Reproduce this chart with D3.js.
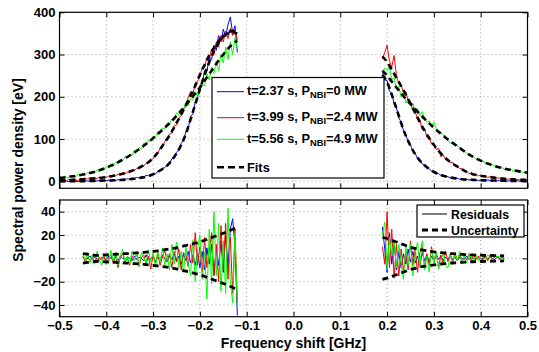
<!DOCTYPE html>
<html><head><meta charset="utf-8">
<script src="https://cdn.jsdelivr.net/npm/d3@7"></script>
<style>body{margin:0;background:#fff}text{font-family:"Liberation Sans",Arial,sans-serif;font-weight:bold}</style>
</head><body>
<script>
// ---------- DATA ----------
// spectra sampled every 0.005 GHz: left side from -0.50 GHz, right side from 0.19 GHz
const specStep = 0.005, leftStart = -0.5, rightStart = 0.19;
const blueL = [1,-1,0,1,-1,0,1,0,-1,1, 0,2,0,1,2,0,1,2,0,2, 1,3,1,3,2,4,3,5,4,6, 5,8,6,9,8,11,10,14,13,12,
  18,17,24,25,31,32,39,42,53,56, 69,73,90,96,117,125,152,160,188,196, 226,230,262,260,295,288,322,310,345,330,
  360,342,370,389,350,368,305];
const redL = [3,0,4,1,5,2,6,3,2,6, 4,7,5,8,5,9,6,10,7,11, 9,12,10,15,13,17,15,20,18,22, 21,27,25,31,30,37,36,43,44,52,
  53,63,66,79,80,95,98,112,114,132, 133,150,155,172,176,198,212,205,232,236, 250,268,270,292,290,312,300,330,318,345,
  330,355,338,362,345,358,335];
const greenL = [11,7,12,10,9,14,13,11,17,13, 19,15,21,18,24,20,27,24,31,28, 35,33,41,37,45,43,52,49,58,55,
  64,62,73,70,80,77,90,86,97,95, 106,104,118,113,126,125,138,135,147,146, 162,157,172,170,186,180,196,192,212,200,
  215,232,225,255,240,270,255,285,262,300, 280,318,288,330,300,340,312];
const blueR = [258,240,238,214,208,184,174,150,140,120, 110,92,86,71,66,54,51,41,39,32, 30,24,23,18,18,14,14,11,11,8,
  9,7,7,5,6,4,5,3,4,3, 3,2,3,2,2,3,2,1,2,1, 2,1,1,0,1,1,0,1,1,0, 1,0,1];
const redR = [290,305,322,285,270,298,250,232,228,210, 212,190,188,168,165,148,145,122,125,104, 106,88,90,75,78,58,62,52,53,44,
  45,36,37,30,30,23,24,18,20,15, 17,13,14,11,13,9,11,8,10,7, 8,5,7,4,6,3,5,2,5,2, 6,1,4];
const greenR = [255,268,262,272,240,245,218,225,200,210, 186,195,178,185,168,172,155,165,150,140, 143,130,140,125,118,115,110,104,96,90,
  93,86,85,78,76,72,66,62,61,58, 52,53,47,48,42,44,38,40,35,36, 31,33,28,30,27,28,24,26,23,24, 21,22,19];

// fits sampled every 0.01 GHz: left -0.50..-0.12, right 0.19..0.50
const fitStep = 0.01;
const fitBlueL = [0,0,0,0,0.5,0.5,1,1,1,1.5, 2,2,2.6,3.2,4,5,6,7.5,9.5,12.5, 16.5,22,29,37,50,66,86,112,146,182,
  218,252,282,308,328,343,352,356,354];
const fitRedL = [2,2.5,3,3.5,4,5,6,6.5,7,8.5, 10,12,14,16.5,19,23,27,32,38,45, 55,68,84,100,118,138,158,180,203,226,
  252,276,298,316,332,343,350,352,350];
const fitGreenL = [8,9,11,12,14,16,18,21,24,28, 32,37,42,48,54,61,68,76,84,93, 102,112,122,132,143,155,167,180,194,208,
  222,238,254,270,286,300,314,325,333];
const fitBlueR = [252,235,205,172,138,108,84,64,49,38, 29,22,17,13,10,8,6.5,5,4,3.5, 3,2.5,2.2,2,1.7,1.5,1.2,1,1,0.8, 0.6,0.5];
const fitRedR = [296,282,264,245,225,205,184,162,140,120, 102,86,72,60,50,42,35,28,22,18, 15,13,11.5,10,8.5,7,6,5,4.5,4, 3.5,3];
const fitGreenR = [262,250,236,222,208,195,183,171,159,148, 137,127,117,108,99,91,83,75,67,60, 54,49,44,40,36,33,30,28,26,24, 22,20];

// residuals sampled every 0.005 GHz: left from -0.45, right from 0.19
const resLeftStart = -0.45, resRightStart = 0.19;
const resBlueL = [1,-1,0,2,-1,1,0,-2,1,0, -1,2,0,-1,1,-2,2,0,-1,1, 0,-2,2,-1,1,0,-2,3,-1,0, 2,-3,1,-2,3,0,-3,2,-1,4,
  -3,2,-5,4,-2,6,-4,3,-6,5, -8,6,-10,9,-5,12,-14,8,-6,15, -12,20,-8,25,34,10,-49];
const resRedL = [2,-3,1,-2,0,3,-4,1,-1,2, -5,1,3,-4,2,-8,1,4,-3,0, -6,2,-2,4,-7,1,3,-5,2,-9, 3,-4,5,-6,1,7,-3,4,-8,6,
  -2,8,-10,5,3,-7,12,-4,22,-6, 10,-12,18,-8,6,22,-15,12,-20,28, -10,30,-18,18,-30,25,-38];
const resGreenL = [4,-2,5,-4,3,-5,6,-1,-6,4, 2,-5,7,-3,5,-6,3,8,-4,2, -5,6,-2,4,-7,5,1,-4,7,-3, 5,-8,6,-3,9,-6,4,-10,12,-5,
  14,-8,6,-12,10,-4,-15,16,-20,8, 20,-18,5,-35,25,-22,40,-15,30,-28, 15,-30,43,-20,-38,22,-42];
const resBlueR = [27,8,-12,22,-5,15,-10,6,-8,4, -5,8,-3,6,-4,2,-6,5,-2,3, -3,2,-2,3,-1,2,-2,1,-1,2, -1,1,-2,1,0,-1,2,-1,1,0,
  -1,1,0,-1,2,-1,1,0,-1,1, 0,1,-1];
const resRedR = [10,-5,40,-8,25,-17,12,-15,8,-12, 5,-10,15,-6,8,-12,5,12,-8,4, -6,10,-4,5,-8,3,-5,6,-3,4, -4,5,-2,3,-3,2,-1,4,-2,3,
  -1,2,-3,1,2,-2,3,-1,1,2, -1,2,0];
const resGreenR = [20,31,-10,18,2,15,-8,12,-5,-18, 10,-6,12,-15,4,14,-8,15,-10,2, -12,8,-4,6,-9,-3,5,-6,-8,3, -5,4,-2,6,-3,2,-4,3,1,-2,
  3,-2,4,1,-1,3,2,-2,3,1, 2,-1,1];

// uncertainty (± band) sampled every 0.01 GHz: left -0.45..-0.12, right 0.19..0.45
const uncLeftStart = -0.45, uncRightStart = 0.19;
const uncL = [4,3.5,3,2.5,2.8,3,3.2,3.5,3.7,4, 4.2,4.5,4.8,5.1,5.5,6,6.5,7,7.6,8.3, 9,10,11,12,13,14,15.5,17,18.5,20, 21.5,23,25,26.5];
const uncR = [18,17,15.5,14,12.5,11,9.5,8.5,7.5,6.8, 6.2,5.6,5.1,4.7,4.3,4,3.7,3.4,3.2,3, 2.8,2.7,2.6,2.5,2.4,2.3,2.2];

const xTicks = [-0.5,-0.4,-0.3,-0.2,-0.1,0,0.1,0.2,0.3,0.4,0.5];
const yTicksTop = [0,100,200,300,400];
const yTicksBot = [-40,-20,0,20,40];
const seriesNames = ["t=2.37 s, P|NBI|=0 MW","t=3.99 s, P|NBI|=2.4 MW","t=5.56 s, P|NBI|=4.9 MW"];
const colors = ["#0000ff","#ff0000","#00ff00"];

// ---------- DRAW ----------
const W=539,H=352;
const svg=d3.select("body").append("svg").attr("width",W).attr("height",H);
const L=59.5,R=527.5;
const x=d3.scaleLinear().domain([-0.5,0.5]).range([L,R]);
const yT=d3.scaleLinear().domain([-16.6,400]).range([188.3,12.3]);
const yB=d3.scaleLinear().domain([-50,50]).range([316.7,200]);

const pts=(arr,start,step)=>arr.map((v,i)=>[start+i*step,v]);

function panel(y, yticks, id){
  const top=y.range()[1], bot=y.range()[0];
  svg.append("clipPath").attr("id",id).append("rect").attr("x",L).attr("y",top).attr("width",R-L).attr("height",bot-top);
  const g=svg.append("g");
  g.selectAll(null).data(xTicks.slice(1,-1)).join("line")
    .attr("x1",d=>x(d)).attr("x2",d=>x(d)).attr("y1",top).attr("y2",bot)
    .attr("stroke","#888").attr("stroke-width",0.8).attr("stroke-dasharray","1,3");
  g.selectAll(null).data(yticks.filter(v=>y(v)>top+1&&y(v)<bot-1)).join("line")
    .attr("x1",L).attr("x2",R).attr("y1",d=>y(d)).attr("y2",d=>y(d))
    .attr("stroke","#888").attr("stroke-width",0.8).attr("stroke-dasharray","1,3");
  return {g,top,bot};
}
function frame(y, yticks, showX, top, bot){
  const g=svg.append("g");
  g.append("g").attr("transform",`translate(${L},0)`).call(d3.axisLeft(y).tickValues(yticks).tickSizeInner(-5).tickSizeOuter(0).tickPadding(4).tickFormat(d3.format("d")));
  g.append("g").attr("transform",`translate(${R},0)`).call(d3.axisRight(y).tickValues(yticks).tickSizeInner(-5).tickSizeOuter(0).tickFormat(""));
  g.append("g").attr("transform",`translate(0,${bot})`).call(d3.axisBottom(x).tickValues(xTicks).tickSizeInner(-5).tickSizeOuter(0).tickPadding(4).tickFormat(showX?d3.format(".1f"):""));
  g.append("g").attr("transform",`translate(0,${top})`).call(d3.axisTop(x).tickValues(xTicks).tickSizeInner(-5).tickSizeOuter(0).tickFormat(""));
  g.selectAll(".domain").remove();
  g.selectAll("text").attr("font-size",13).attr("fill","#000").attr("font-family","Liberation Sans, Arial, sans-serif").attr("font-weight","bold");
  g.selectAll(".tick line").attr("stroke","#000");
  g.append("rect").attr("x",L).attr("y",top).attr("width",R-L).attr("height",bot-top).attr("fill","none").attr("stroke","#000").attr("stroke-width",1.2);
}

// top panel
const P1=panel(yT,yTicksTop,"c1");
const lineT=d3.line().x(d=>x(d[0])).y(d=>yT(d[1]));
const fitLine=d3.line().x(d=>x(d[0])).y(d=>yT(d[1])).curve(d3.curveMonotoneX);
const dataL=[blueL,redL,greenL], dataR=[blueR,redR,greenR];
const fitsL=[fitBlueL,fitRedL,fitGreenL], fitsR=[fitBlueR,fitRedR,fitGreenR];
const gT=P1.g.append("g").attr("clip-path","url(#c1)");
dataL.forEach((a,i)=>{
  gT.append("path").attr("d",lineT(pts(a,leftStart,specStep))).attr("fill","none").attr("stroke",colors[i]).attr("stroke-width",1);
  gT.append("path").attr("d",lineT(pts(dataR[i],rightStart,specStep))).attr("fill","none").attr("stroke",colors[i]).attr("stroke-width",1);
});
fitsL.forEach((a,i)=>{
  gT.append("path").attr("d",fitLine(pts(a,leftStart,fitStep))).attr("fill","none").attr("stroke","#000").attr("stroke-width",2.6).attr("stroke-dasharray","6,4");
  gT.append("path").attr("d",fitLine(pts(fitsR[i],rightStart,fitStep))).attr("fill","none").attr("stroke","#000").attr("stroke-width",2.6).attr("stroke-dasharray","6,4");
});
frame(yT,yTicksTop,false,P1.top,P1.bot);

// bottom panel
const P2=panel(yB,yTicksBot,"c2");
const lineB=d3.line().x(d=>x(d[0])).y(d=>yB(d[1]));
const uncLine=d3.line().x(d=>x(d[0])).y(d=>yB(d[1])).curve(d3.curveMonotoneX);
const gB=P2.g.append("g").attr("clip-path","url(#c2)");
const resL=[resBlueL,resRedL,resGreenL], resR=[resBlueR,resRedR,resGreenR];
resL.forEach((a,i)=>{
  gB.append("path").attr("d",lineB(pts(a,resLeftStart,specStep))).attr("fill","none").attr("stroke",colors[i]).attr("stroke-width",1);
  gB.append("path").attr("d",lineB(pts(resR[i],resRightStart,specStep))).attr("fill","none").attr("stroke",colors[i]).attr("stroke-width",1);
});
[[uncL,uncLeftStart],[uncR,uncRightStart]].forEach(([a,s])=>{
  [1,-1].forEach(sg=>{
    gB.append("path").attr("d",uncLine(a.map((v,i)=>[s+i*fitStep,sg*v]))).attr("fill","none").attr("stroke","#000").attr("stroke-width",2.8).attr("stroke-dasharray","6,4");
  });
});
frame(yB,yTicksBot,true,P2.top,P2.bot);

// axis labels
svg.append("text").attr("x",(L+R)/2).attr("y",347.5).attr("text-anchor","middle").attr("font-size",14).text("Frequency shift [GHz]");
svg.append("text").attr("transform","translate(23,170) rotate(-90)").attr("text-anchor","middle").attr("font-size",14).text("Spectral power density [eV]");

// top legend
const lg=svg.append("g");
lg.append("rect").attr("x",212).attr("y",77.5).attr("width",172).attr("height",100.5).attr("fill","#fff").attr("stroke","#000").attr("stroke-width",1.2);
const rowsY=[91.7,117.7,139.3];
seriesNames.forEach((nm,i)=>{
  const yy=rowsY[i];
  lg.append("line").attr("x1",217).attr("x2",244).attr("y1",yy).attr("y2",yy).attr("stroke",colors[i]).attr("stroke-width",1);
  const parts=nm.split("|");
  const t=lg.append("text").attr("x",247).attr("y",yy+3.5).attr("font-size",12.8);
  t.append("tspan").text(parts[0]);
  t.append("tspan").attr("font-size",9.3).attr("dy",3).text(parts[1]);
  t.append("tspan").attr("dy",-3).text(parts[2]);
});
lg.append("line").attr("x1",217).attr("x2",244).attr("y1",167.3).attr("y2",167.3).attr("stroke","#000").attr("stroke-width",2.6).attr("stroke-dasharray","7,4");
lg.append("text").attr("x",247).attr("y",171.8).attr("font-size",12.8).text("Fits");

// bottom legend
const lb=svg.append("g");
lb.append("rect").attr("x",417).attr("y",205).attr("width",107).attr("height",32).attr("fill","#fff").attr("stroke","#000").attr("stroke-width",1.2);
lb.append("line").attr("x1",422).attr("x2",447).attr("y1",214).attr("y2",214).attr("stroke","#000").attr("stroke-width",1);
lb.append("text").attr("x",451).attr("y",218.5).attr("font-size",12.3).text("Residuals");
lb.append("line").attr("x1",422).attr("x2",447).attr("y1",230).attr("y2",230).attr("stroke","#000").attr("stroke-width",2.8).attr("stroke-dasharray","6,4");
lb.append("text").attr("x",451).attr("y",234.5).attr("font-size",12.3).text("Uncertainty");
</script>
</body></html>
